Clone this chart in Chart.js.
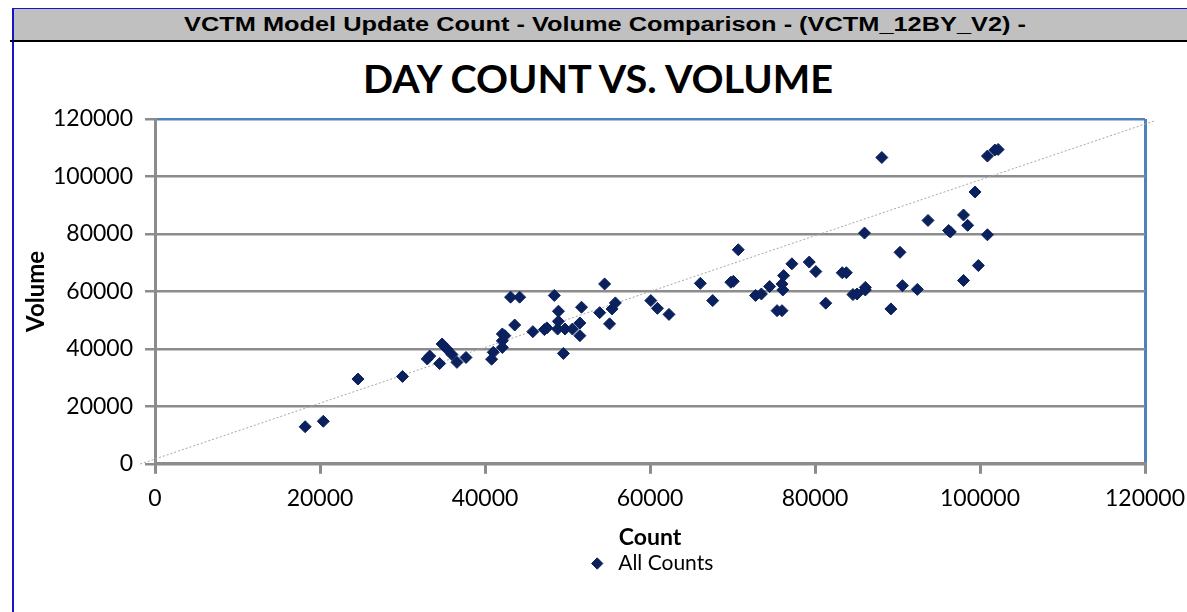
<!DOCTYPE html>
<html>
<head>
<meta charset="utf-8">
<script src="https://cdn.jsdelivr.net/npm/chart.js@4.4.1/dist/chart.umd.min.js"></script>
<style>
  html, body { margin: 0; padding: 0; background: #fff; width: 1187px; height: 612px; overflow: hidden; }
  #frame { position: absolute; left: 12px; top: 8px; right: 0; bottom: 0; border-left: 2px solid #1414c8; border-top: 1px solid #1414c8; }
  #header { position: absolute; left: 14px; top: 9px; right: 0; height: 31px; background: #c0c0c0; }
  #rule { position: absolute; left: 10px; top: 40px; right: 0; height: 2px; background: #000; }
  #headText { position: absolute; left: 605px; top: 13px; white-space: nowrap; font: bold 20px "Liberation Sans", Arial, sans-serif; color: #000; transform-origin: 0 0; }
  #title { position: absolute; left: 598px; top: 55px; white-space: nowrap; font: bold 39px Lato, sans-serif; line-height: 47px; color: #000; transform-origin: 0 0; }
  #wrap { position: absolute; left: 0; top: 42px; width: 1187px; height: 570px; }
</style>
</head>
<body>
<div id="frame"></div>
<div id="header"></div>
<div id="rule"></div>
<div id="headText">VCTM Model Update Count - Volume Comparison - (VCTM_12BY_V2) -</div>
<div id="title">DAY COUNT VS. VOLUME</div>
<div id="wrap"><canvas id="chart"></canvas></div>
<script>
// --- data ---
const countValues = [
  18200, 20400, 24600, 30000, 33000, 33300, 34500, 34800, 35400, 36000, 36600, 37700,
  40800, 41000, 42100, 42100, 42100, 42400, 43100, 44200, 43600, 45800, 47200, 47500,
  48400, 48900, 48900, 48800, 49700, 49500, 50600, 51500, 51500, 51700, 53900, 54500,
  55100, 55400, 55800, 60100, 60900, 62300,
  66100, 67600, 69800, 70100, 70700, 72800, 73500, 74500, 75400, 76000, 76100, 76000,
  76200, 77200, 79300, 80100, 81300, 83300, 83800, 84600, 85100, 86000, 86100, 86100,
  88100, 89200, 90300, 90600, 92400, 93700, 96200, 96400, 98000, 98500, 98000, 99400,
  99800, 100900, 100900, 101800, 102200
];
const volumeValues = [
  12900, 14800, 29500, 30400, 36500, 37500, 34900, 41700, 39900, 38000, 35300, 37000,
  36400, 38800, 40500, 42800, 45200, 44600, 58000, 58000, 48300, 46000, 46700, 47300,
  58600, 53100, 49600, 46900, 46900, 38400, 46900, 49000, 44600, 54500, 52600, 62600,
  48700, 53900, 56000, 56800, 54100, 52000,
  62800, 56800, 63200, 63500, 74500, 58600, 59100, 61700, 53300, 53300, 60500, 62600,
  65500, 69600, 70200, 66900, 55900, 66500, 66500, 58900, 59100, 80300, 61400, 60500,
  106600, 53900, 73600, 62000, 60700, 84700, 81200, 80700, 86600, 83000, 63800, 94600,
  69000, 79700, 107100, 109200, 109400
];
// dotted trend line, end points as seen (it runs past the plot edges)
const trendX = [-1800, 121200];
const trendY = [-80, 119400];
const axisTicks = [0, 20000, 40000, 60000, 80000, 100000, 120000];

// fit the header texts to the widths seen in the picture
function fitWidth(id, target, centre) {
  const el = document.getElementById(id);
  const w = el.getBoundingClientRect().width;
  const s = target / w;
  el.style.left = (centre - target / 2) + 'px';
  el.style.transform = 'scaleX(' + s + ')';
}
fitWidth('headText', 842, 605);
fitWidth('title', 470, 598);

const gridGray = '#8c8c8c';
const plotBlue = '#4f81bd';
const navy = '#0b215e';
const font = 'Lato';

const canvas = document.getElementById('chart');
new Chart(canvas, {
  type: 'scatter',
  data: {
    datasets: [{
      label: 'All Counts',
      data: countValues.map((x, i) => ({ x: x, y: volumeValues[i] })),
      pointStyle: 'rectRot',
      pointRadius: 6,
      pointHoverRadius: 6,
      backgroundColor: navy,
      borderColor: navy,
      borderWidth: 1,
      order: 0
    }, {
      type: 'line',
      label: 'trend',
      data: trendX.map((x, i) => ({ x: x, y: trendY[i] })),
      borderColor: '#a6a6a6',
      borderWidth: 1,
      borderDash: [2, 2],
      pointRadius: 0,
      fill: false,
      clip: false,
      order: 1
    }]
  },
  options: {
    responsive: true,
    maintainAspectRatio: false,
    animation: false,
    layout: { padding: { left: 12, right: 42, top: 77, bottom: 28 } },
    plugins: {
      tooltip: { enabled: false },
      title: { display: false },
      legend: {
        position: 'bottom',
        fullSize: false,
        labels: {
          usePointStyle: true,
          boxHeight: 8,
          padding: 2,
          color: '#000',
          font: { family: font, size: 21 },
          filter: item => item.datasetIndex === 0
        }
      }
    },
    scales: {
      x: {
        type: 'linear',
        min: 0, max: 120000,
        afterBuildTicks: s => { s.ticks = axisTicks.map(v => ({ value: v })); },
        afterFit: s => { s.paddingRight = 0; s.paddingLeft = 0; },
        border: { color: gridGray, width: 3 },
        grid: {
          drawOnChartArea: true,
          color: c => (c.tick && c.tick.value === 120000) ? plotBlue : 'rgba(0,0,0,0)',
          lineWidth: 3,
          tickColor: gridGray,
          tickLength: 10
        },
        ticks: { color: '#000', padding: 11, maxRotation: 0, font: { family: font, size: 23 }, callback: v => String(v) },
        title: { display: true, text: 'Count', color: '#000', padding: { top: 0, bottom: 0 }, font: { family: font, size: 23, weight: 'bold' } }
      },
      y: {
        type: 'linear',
        min: 0, max: 120000,
        afterBuildTicks: s => { s.ticks = axisTicks.map(v => ({ value: v })); },
        afterFit: s => { s.width = 143; },
        border: { color: gridGray, width: 3 },
        grid: {
          color: c => (c.tick && c.tick.value === 120000) ? plotBlue : gridGray,
          lineWidth: 2.5,
          tickColor: gridGray,
          tickLength: 10
        },
        ticks: { color: '#000', padding: 12, font: { family: font, size: 23 }, callback: v => String(v) },
        title: { display: true, text: 'Volume', color: '#000', padding: { top: 10, bottom: 0 }, font: { family: font, size: 24, weight: 'bold' } }
      }
    }
  }
});
</script>
</body>
</html>
